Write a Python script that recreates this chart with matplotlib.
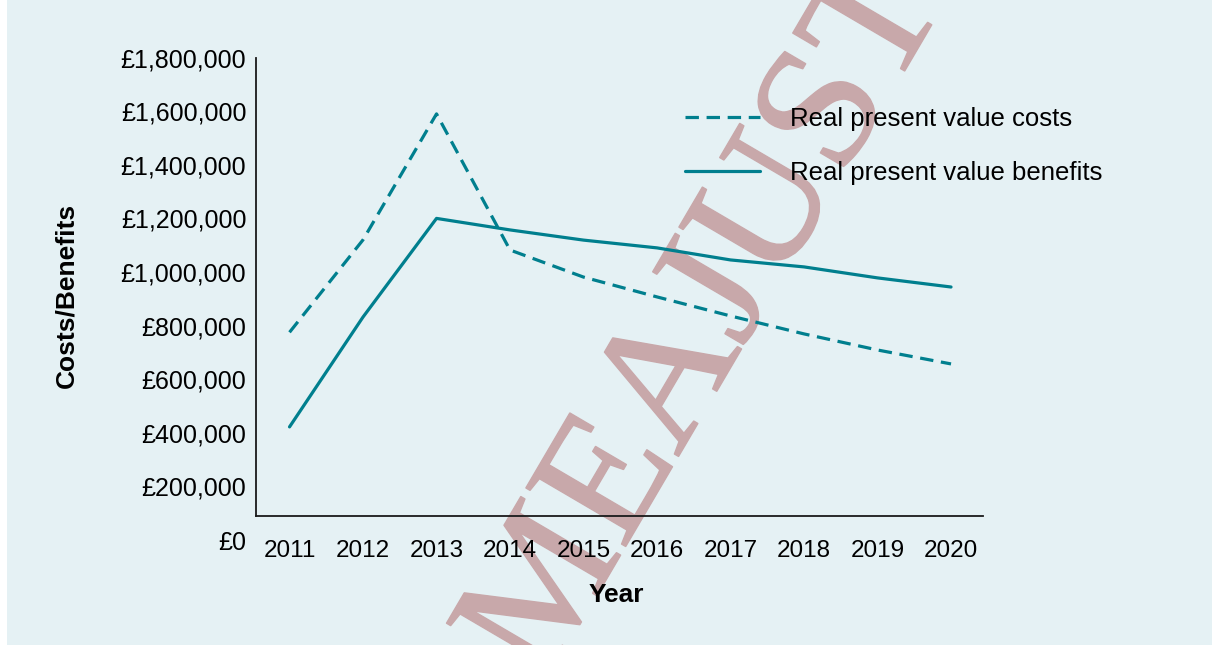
import numpy as np
import matplotlib
matplotlib.use("Agg")
import matplotlib.pyplot as plt
import matplotlib.patheffects as pe
from matplotlib.patches import Rectangle

# ------------------------------- data
years = ["2011", "2012", "2013", "2014", "2015", "2016", "2017", "2018", "2019", "2020"]
costs = [775000, 1120000, 1590000, 1082000, 981000, 907000, 836000, 769000, 709000, 657000]
benefits = [422000, 832000, 1200000, 1157000, 1119000, 1090000, 1045000, 1019000, 978000, 944000]
y_ticks = [0, 200000, 400000, 600000, 800000, 1000000, 1200000, 1400000, 1600000, 1800000]
y_tick_labels = ["£0", "£200,000", "£400,000", "£600,000", "£800,000", "£1,000,000",
                 "£1,200,000", "£1,400,000", "£1,600,000", "£1,800,000"]
axis_floor = 89500  # where the horizontal axis crosses

teal = "#007f8e"
bg = "#e5f1f4"
stamp = "#c8a8aa"

plt.rcParams["font.family"] = ["Liberation Sans", "DejaVu Sans"]

W, H = 1212, 645
fig = plt.figure(figsize=(W / 100, H / 100), dpi=100, facecolor=bg)
# thin white strip down the left edge
fig.patches.append(Rectangle((0, 0), 7 / W, 1, transform=fig.transFigure,
                             facecolor="white", edgecolor="none", zorder=0))

ax = fig.add_axes([256 / W, (H - 540) / H, 727 / W, 482.4 / H])
ax.set_facecolor("none")
ax.set_zorder(2)

x = np.arange(len(years))
ax.plot(x, costs, color=teal, lw=2.3, linestyle=(0, (4.2, 2.4)), dash_capstyle="butt",
        label="Real present value costs")
ax.plot(x, benefits, color=teal, lw=2.3, solid_capstyle="round",
        label="Real present value benefits")

# spines first: moving a spine resets the ticks
for s in ["top", "right"]:
    ax.spines[s].set_visible(False)
ax.spines["left"].set_bounds(axis_floor, 1800000)
ax.spines["bottom"].set_position(("data", axis_floor))
for s in ["left", "bottom"]:
    ax.spines[s].set_linewidth(1.3)
    ax.spines[s].set_color("#1a1a1a")

ax.set_xlim(-0.456, 9.435)
ax.set_ylim(0, 1800000)
ax.set_xticks(x)
ax.set_xticklabels(years)
ax.set_yticks(y_ticks)
ax.set_yticklabels(y_tick_labels)
ax.tick_params(axis="both", length=0)
ax.tick_params(axis="y", pad=7, labelsize=18)
ax.tick_params(axis="x", pad=17, labelsize=17.5)

ax.set_ylabel("Costs/Benefits", fontsize=19, fontweight="bold")
ax.yaxis.set_label_coords(-0.244, 0.508)
ax.set_xlabel("Year", fontsize=19, fontweight="bold")
ax.xaxis.set_label_coords(0.495, -0.09)

leg = ax.legend(loc="upper left", bbox_to_anchor=(685 / W, 1 - 107 / H),
                bbox_transform=fig.transFigure, frameon=False, fontsize=18.5,
                handlelength=2.9, handletextpad=1.2, labelspacing=1.15,
                borderpad=0, borderaxespad=0)

# watermark stamped across the picture
fig.text(708 / W, 1 - 322 / H, "MEAJUST", fontsize=127, family="Liberation Serif",
         color=stamp, rotation=59.6, rotation_mode="anchor", ha="center", va="center",
         zorder=1, path_effects=[pe.withStroke(linewidth=1.2, foreground=stamp)])

fig.savefig("out.png", dpi=100, facecolor=fig.get_facecolor())
